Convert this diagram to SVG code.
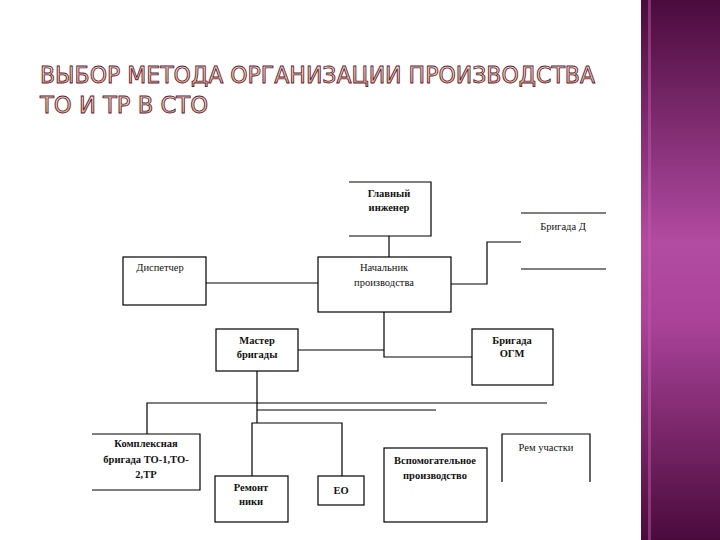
<svg xmlns="http://www.w3.org/2000/svg" width="720" height="540" viewBox="0 0 720 540">
<defs>
<linearGradient id="band" x1="0" y1="0" x2="0" y2="1">
<stop offset="0" stop-color="#4a0b3c"/>
<stop offset="0.45" stop-color="#b24ba2"/>
<stop offset="0.6" stop-color="#a94298"/>
<stop offset="1" stop-color="#4a0b3c"/>
</linearGradient>
<linearGradient id="tfill" x1="0" y1="0" x2="0" y2="1">
<stop offset="0" stop-color="#fbecc8"/>
<stop offset="1" stop-color="#e6ac60"/>
</linearGradient>
<style>
.t{font-family:"DejaVu Sans Condensed","DejaVu Sans",sans-serif;font-size:23px;fill:url(#tfill);stroke:#5a1444;stroke-width:0.8px}
.box{fill:none;stroke:#000;stroke-width:1.2}
.c{fill:none;stroke:#000;stroke-width:1.2}
.l{font-family:"Liberation Serif",serif;font-size:10.5px;fill:#111;text-anchor:middle}
.b{font-weight:bold}
</style>
</defs>
<rect width="720" height="540" fill="#fff"/>
<rect x="641" y="0" width="79" height="540" fill="url(#band)"/>
<rect x="648" y="0" width="3" height="540" fill="#c05aa8" opacity="0.5"/>
<g id="title">
<text class="t" x="40" y="83" textLength="555" lengthAdjust="spacingAndGlyphs">ВЫБОР МЕТОДА ОРГАНИЗАЦИИ ПРОИЗВОДСТВА</text>
<text class="t" x="40" y="113" textLength="168" lengthAdjust="spacingAndGlyphs">ТО И ТР В СТО</text>
</g>
<g id="connectors">
<path class="c" d="M389 236V257"/>
<path class="c" d="M451 284H487V242H521"/>
<path class="c" d="M206 283H318" stroke-width="2" stroke="#333"/>
<path class="c" d="M384 312V357H472"/>
<path class="c" d="M298 350H384"/>
<path class="c" d="M257 371V423"/>
<path class="c" d="M147 434V403H547"/>
<path class="c" d="M257 410H436"/>
<path class="c" d="M252 476V423H342V476"/>
</g>
<g id="glavny">
<path class="box" d="M349 182H431V236H349"/>
<text class="l b" x="389" y="197">Главный</text>
<text class="l b" x="389" y="211">инженер</text>
</g>
<g id="brigada-d">
<path class="box" d="M521 213H606M521 269H606"/>
<text class="l" x="563" y="230">Бригада Д</text>
</g>
<g id="dispetcher">
<rect class="box" x="123" y="257" width="83" height="48"/>
<text class="l" x="160" y="271">Диспетчер</text>
</g>
<g id="nachalnik">
<rect class="box" x="318" y="257" width="133" height="55"/>
<text class="l" x="384" y="271">Начальник</text>
<text class="l" x="384" y="286">производства</text>
</g>
<g id="master">
<rect class="box" x="216" y="329" width="82" height="42"/>
<text class="l b" x="257" y="344">Мастер</text>
<text class="l b" x="257" y="358">бригады</text>
</g>
<g id="ogm">
<rect class="box" x="472" y="329" width="81" height="56"/>
<text class="l b" x="512" y="344">Бригада</text>
<text class="l b" x="512" y="357">ОГМ</text>
</g>
<g id="kompleks">
<path class="box" d="M92 434H200V490H92"/>
<text class="l b" x="146" y="447">Комплексная</text>
<text class="l b" x="146" y="463">бригада ТО-1,ТО-</text>
<text class="l b" x="146" y="478">2,ТР</text>
</g>
<g id="remont">
<rect class="box" x="215" y="476" width="73" height="46"/>
<text class="l b" x="251" y="491">Ремонт</text>
<text class="l b" x="251" y="505">ники</text>
</g>
<g id="eo">
<rect class="box" x="318" y="476" width="46" height="29"/>
<text class="l b" x="341" y="494">ЕО</text>
</g>
<g id="vspom">
<rect class="box" x="384" y="448" width="103" height="74"/>
<text class="l b" x="435" y="464">Вспомогательное</text>
<text class="l b" x="435" y="479">производство</text>
</g>
<g id="rem-uch">
<path class="box" d="M502 482V434H590V482"/>
<text class="l" x="546" y="451">Рем участки</text>
</g>
</svg>
